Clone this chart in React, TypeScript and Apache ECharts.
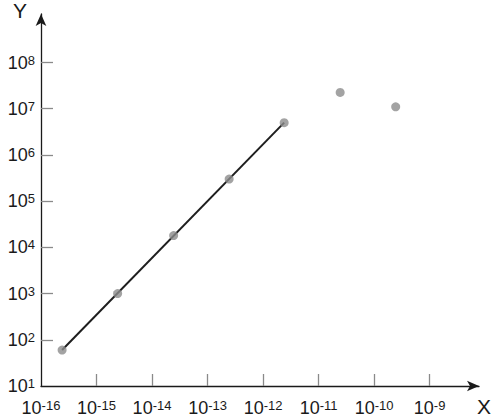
import React, { useEffect, useRef } from "react";
import * as echarts from "echarts";

// measured data points (x in seconds-like units, y values)
const pointX = [2.4e-16, 2.4e-15, 2.45e-14, 2.45e-13, 2.4e-12, 2.45e-11, 2.45e-10];
const pointY = [60, 1000, 18000, 3.0e5, 5.0e6, 2.25e7, 1.1e7];

// fitted straight line (log-log), from first to fifth point
const fitX = [2.4e-16, 2.4e-12];
const fitY = [60, 5.0e6];

// tick exponents
const xLabelExps = [-16, -15, -14, -13, -12, -11, -10, -9];
const xTickExps = [-15, -14, -13, -12, -11, -10, -9];
const yLabelExps = [1, 2, 3, 4, 5, 6, 7, 8];
const yTickExps = [2, 3, 4, 5, 6, 7, 8];

const xTitle = "X";
const yTitle = "Y";

const FONT = "'Liberation Sans', Arial, sans-serif";

const rich = {
  b: { fontSize: 18, lineHeight: 18, fontFamily: FONT, color: "#1a1a1a" },
  s: { fontSize: 13, lineHeight: 10, fontFamily: FONT, color: "#1a1a1a", verticalAlign: "top" as const },
};

const fmt = (v: number) => `{b|10}{s|${Math.round(Math.log10(v))}}`;

export default function App() {
  const ref = useRef<HTMLDivElement>(null);
  useEffect(() => {
    if (!ref.current) return;
    const chart = echarts.init(ref.current, null, { renderer: "svg" });
    chart.setOption({
      animation: false,
      backgroundColor: "#ffffff",
      grid: { left: 41, top: 14, right: 14, bottom: 31, containLabel: false },
      xAxis: {
        type: "log",
        logBase: 10,
        min: 1e-16,
        max: Math.pow(10, -8.11),
        axisLine: {
          show: true,
          symbol: ["none", "arrow"],
          symbolSize: [8, 12],
          lineStyle: { color: "#1a1a1a", width: 1.3 },
        },
        axisTick: {
          show: true,
          inside: true,
          length: 12,
          customValues: xTickExps.map((e) => Math.pow(10, e)),
          lineStyle: { color: "#8a8a8a", width: 1.3 },
        },
        axisLabel: {
          show: true,
          margin: 13,
          fontSize: 18,
          fontFamily: FONT,
          customValues: xLabelExps.map((e) => Math.pow(10, e)),
          formatter: fmt,
          rich,
        },
        splitLine: { show: false },
        minorTick: { show: false },
      },
      yAxis: {
        type: "log",
        logBase: 10,
        min: 10,
        max: Math.pow(10, 9.05),
        axisLine: {
          show: true,
          symbol: ["none", "arrow"],
          symbolSize: [8, 12],
          lineStyle: { color: "#1a1a1a", width: 1.3 },
        },
        axisTick: {
          show: true,
          inside: true,
          length: 12,
          customValues: yTickExps.map((e) => Math.pow(10, e)),
          lineStyle: { color: "#8a8a8a", width: 1.3 },
        },
        axisLabel: {
          show: true,
          margin: 6,
          fontSize: 18,
          fontFamily: FONT,
          customValues: yLabelExps.map((e) => Math.pow(10, e)),
          formatter: fmt,
          rich,
        },
        splitLine: { show: false },
        minorTick: { show: false },
      },
      graphic: [
        {
          type: "text",
          left: 13,
          top: 0,
          style: { text: yTitle, fontSize: 21, fontFamily: FONT, fill: "#1a1a1a" },
        },
        {
          type: "text",
          left: 477,
          top: 396,
          style: { text: xTitle, fontSize: 21, fontFamily: FONT, fill: "#1a1a1a" },
        },
      ],
      series: [
        {
          type: "line",
          data: fitX.map((x, i) => [x, fitY[i]]),
          showSymbol: false,
          symbol: "none",
          lineStyle: { color: "#1e1e1e", width: 2 },
          z: 2,
        },
        {
          type: "scatter",
          data: pointX.map((x, i) => [x, pointY[i]]),
          symbol: "circle",
          symbolSize: 9,
          itemStyle: { color: "#8c8c8c" },
          z: 3,
        },
      ],
    });
    return () => chart.dispose();
  }, []);
  return (
    <div
      ref={ref}
      style={{ position: "fixed", left: 0, top: 0, width: 493, height: 417 }}
    />
  );
}
